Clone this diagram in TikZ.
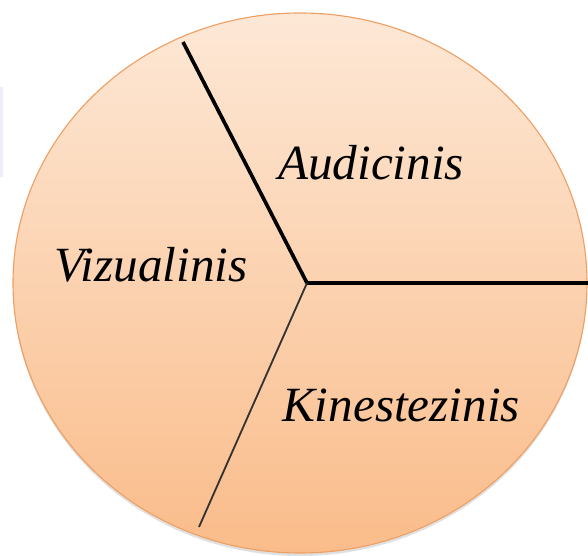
\documentclass[tikz,border=0pt]{standalone}
\usepackage{fontspec}
\setmainfont{Liberation Serif}
\usepackage{tikz}

\definecolor{peachtop}{RGB}{253,232,214}
\definecolor{peachbot}{RGB}{250,188,138}
\definecolor{rimorange}{RGB}{238,160,100}
\definecolor{stripblue}{RGB}{236,237,248}

\begin{document}
\begin{tikzpicture}[x=0.025cm,y=-0.025cm,line width=1.00pt,
    lbl/.style={anchor=base,inner sep=0pt,font=\fontsize{35}{42}\selectfont\itshape}]
      \useasboundingbox (0,0) rectangle (588,556);
      \fill [stripblue] (0,87) rectangle (3,177);

      \fill [black!12] (300,286) ellipse [x radius=287, y radius=270];
      \shade [top color=peachtop,bottom color=peachbot,draw=rimorange,line width=0.8pt]
        (300,283) ellipse [x radius=287, y radius=270];

      \coordinate (mid) at (307,283);
      \coordinate (top) at (183,42);
      \coordinate (rgt) at (588,283);
      \coordinate (bot) at (199,527);

      \draw [black,line width=2.6pt] (mid) -- (top);
      \draw [black,line width=2.6pt] (mid) -- (rgt);
      \draw [black!80,line width=1.3pt] (mid) -- (bot);

      \node [lbl] (aud) at (371,180) {Audicinis};
      \node [lbl] (viz) at (151,282) {Vizualinis};
      \node [lbl] (kin) at (401,422) {Kinestezinis};
    \end{tikzpicture}
\end{document}
